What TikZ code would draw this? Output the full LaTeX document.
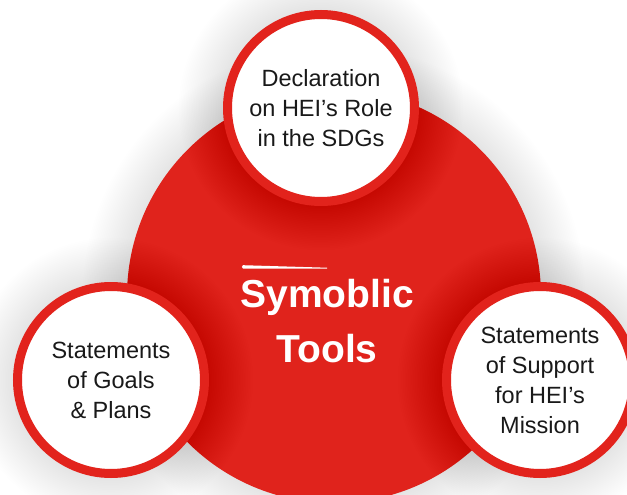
\documentclass[tikz,border=0pt]{standalone}
\usepackage{fontspec}
\setmainfont{Liberation Sans}
\definecolor{mainred}{RGB}{224,35,28}
\definecolor{ringred}{RGB}{226,35,28}
\definecolor{txt}{RGB}{25,25,25}
\begin{document}
\begin{tikzpicture}[x=1pt,y=-1pt,
  hubc/.style={circle, fill=mainred, minimum size=414pt, inner sep=0pt},
  smallc/.style={circle, fill=white, draw=ringred, line width=9pt,
    minimum size=187pt, inner sep=0pt, align=center, text=txt,
    font=\fontsize{23.5}{30}\selectfont},
  hubtext/.style={align=center, text=white, font=\bfseries\fontsize{39}{55}\selectfont},
  glowlayer/.style={fill=black, opacity=0.0055}
]
\useasboundingbox (0,0) rectangle (627,495);
\clip (0,0) rectangle (627,495);
\fill[white] (0,0) rectangle (627,495);
% glow of the hub
\foreach \k in {1,...,26} {
  \pgfmathsetmacro{\rr}{207+1.7*\k}
  \fill[glowlayer] (334,296) circle[radius=\rr pt];
}
\node[hubc] (hub) at (334,296) {};
% glow of the small circles
\foreach \cx/\cy in {321/108, 111/380, 540/380} {
  \foreach \k in {1,...,26} {
    \pgfmathsetmacro{\rr}{98+1.7*\k}
    \fill[glowlayer] (\cx,\cy) circle[radius=\rr pt];
  }
}
\node[smallc] (decl) at (321,108) {Declaration\\on HEI’s Role\\in the SDGs};
\node[smallc] (goals) at (111,380) {Statements\\of Goals\\\& Plans};
\node[smallc] (support) at (540,380) {Statements\\of Support\\for HEI’s\\Mission};
% tapered white stroke
\fill[white] (243,265.2) -- (327,267.7) -- (327,268.6) -- (243,268.6)
  .. controls (241.5,268.4) and (241.5,265.4) .. cycle;
\node[hubtext] (title) at (327,321) {Symoblic\\Tools};
\end{tikzpicture}
\end{document}
